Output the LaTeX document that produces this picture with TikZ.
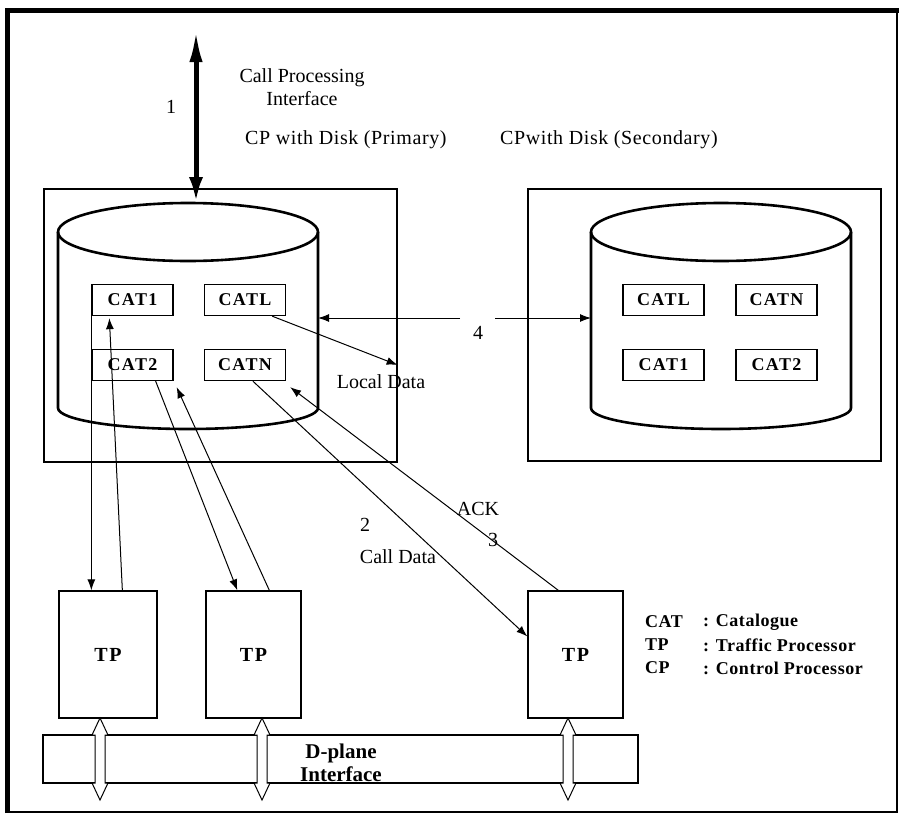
\documentclass[tikz,border=0pt]{standalone}
\usepackage{fontspec}
\setmainfont{Liberation Serif}
\newfontfamily\wideserif[LetterSpace=8.0]{Liberation Serif}
\newfontfamily\midserif[LetterSpace=3.0]{Liberation Serif}
\usetikzlibrary{arrows.meta,calc}
\begin{document}
\begin{tikzpicture}[x=1pt,y=-1pt,
  catbox/.style={draw, line width=1.3pt, minimum width=81pt, minimum height=31pt, inner sep=0pt, font=\fontsize{18}{19}\wideserif\bfseries},
  tpbox/.style={draw, line width=1.3pt, minimum width=96pt, minimum height=127pt, inner sep=0pt, font=\fontsize{20}{22}\wideserif\bfseries},
  cpbox/.style={draw, line width=1.3pt},
  lbl/.style={font=\fontsize{20}{23}\selectfont, inner sep=0pt},
  title/.style={font=\fontsize{20}{23}\midserif, inner sep=0pt, anchor=west},
  legend/.style={font=\fontsize{18}{20}\midserif\bfseries, inner sep=0pt, anchor=west},
  conn/.style={line width=1pt, -{Latex[length=11pt,width=8pt]}},
  cylline/.style={line width=2.6pt},
  dplarrow/.style={line width=1pt, fill=white}
]
\useasboundingbox (0,0) rectangle (899,814);
% outer frame
\draw[line width=5pt] (7,813) -- (7,10) -- (899,10);
\draw[line width=2.5pt] (897,10) -- (897,812) -- (5,812);

% CP boxes
\node[cpbox, minimum width=353pt, minimum height=273pt, inner sep=0pt] (prim) at (220.5,325.5) {};
\node[cpbox, minimum width=353pt, minimum height=272pt, inner sep=0pt] (sec) at (704.5,325) {};

% cylinders
\newcommand\diskcyl[1]{%
  \draw[cylline] (#1-130,232) -- (#1-130,408) arc[start angle=180,end angle=360,x radius=130pt,y radius=21pt] -- (#1+130,232);
  \draw[cylline] (#1,232) ellipse[x radius=130pt, y radius=29pt];}
\diskcyl{188}
\diskcyl{721}
\coordinate (pcylT) at (196,203);
\coordinate (pcylE) at (318,318);
\coordinate (scylW) at (591,318);

% catalogue boxes (primary)
\node[catbox] (cat1) at (132.5,300) {CAT1};
\node[catbox] (catl) at (245,300) {CATL};
\node[catbox] (cat2) at (132.5,365) {CAT2};
\node[catbox] (catn) at (245,365) {CATN};
% catalogue boxes (secondary)
\node[catbox] (scatl) at (663.5,300) {CATL};
\node[catbox] (scatn) at (776.5,300) {CATN};
\node[catbox] (scat1) at (663.5,365) {CAT1};
\node[catbox] (scat2) at (776.5,365) {CAT2};

% TP boxes
\node[tpbox, minimum width=98pt] (tp1) at (108,654.5) {TP};
\node[tpbox, minimum width=95pt] (tp2) at (253.5,654.5) {TP};
\node[tpbox, minimum width=95pt] (tp3) at (575.5,654.5) {TP};

% D-plane bar
\node[draw, line width=1.3pt, minimum width=595pt, minimum height=48pt, inner sep=0pt] (dplane) at (340.5,759) {};
\node[font=\fontsize{21}{23}\selectfont\bfseries, align=center, inner sep=0pt] (dpl) at (341,763) {D-plane\\Interface};

% hollow double arrows
\newcommand\dplarr[1]{%
  \draw[dplarrow] (#1,718) -- ++(8,17) -- ++(-3,0) -- ++(0,48) -- ++(3,0) -- (#1,800) -- ++(-8,-17) -- ++(3,0) -- ++(0,-48) -- ++(-3,0) -- cycle;}
\dplarr{100}
\dplarr{262}
\dplarr{568}

% texts
\node[lbl, align=center] (cpi) at (302,87) {Call Processing\\Interface};
\node[lbl] (n1) at (171,107) {1};
\node[title] (ptitle) at (245,140) {CP with Disk (Primary)};
\node[title] (stitle) at (500,140) {CPwith Disk (Secondary)};
\node[lbl] (ld) at (381,382) {Local Data};
\node[lbl] (n4) at (478,333) {4};
\node[lbl] (n2) at (365,525) {2};
\node[lbl] (cd) at (398,557) {Call Data};
\node[lbl] (ack) at (478,509) {ACK};
\node[lbl] (n3) at (493,540) {3};

% legend
\node[legend] (lg1) at (645,622) {CAT};
\node[legend] (lg1d) at (703,622) {: Catalogue};
\node[legend] (lg2) at (645,645) {TP};
\node[legend] (lg2d) at (703,645) {: Traffic Processor};
\node[legend] (lg3) at (645,668) {CP};
\node[legend] (lg3d) at (703,668) {: Control Processor};

% connectors
\coordinate (ci) at (196,28);
\draw[line width=5pt, {Latex[length=34pt,width=13pt]}-{Latex[length=26pt,width=14pt]}] (ci) -- (pcylT);
\coordinate (c4l) at (460,318);
\coordinate (c4r) at (495,318);
\draw[conn] (c4l) -- (pcylE);
\draw[conn] (c4r) -- (scylW);
\draw[conn] ($(catl.south east)+(-14,0)$) -- (prim.east |- 0,365);
\draw[conn] (cat1.south west) -- (cat1.south west |- tp1.north);
\draw[conn] ($(tp1.north west)+(64,0)$) -- ($(cat1.south west)+(18,2)$);
\draw[conn] ($(cat2.south east)+(-18,0)$) -- ($(tp2.north west)+(32,0)$);
\draw[conn] ($(tp2.north west)+(64,0)$) -- ($(cat2.south east)+(3,6)$);
\draw[conn] ($(catn.south west)+(49,0)$) -- ($(tp3.west)+(0,-18)$);
\draw[conn] ($(tp3.north west)+(31,0)$) -- ($(catn.south east)+(4,6)$);
\end{tikzpicture}
\end{document}
